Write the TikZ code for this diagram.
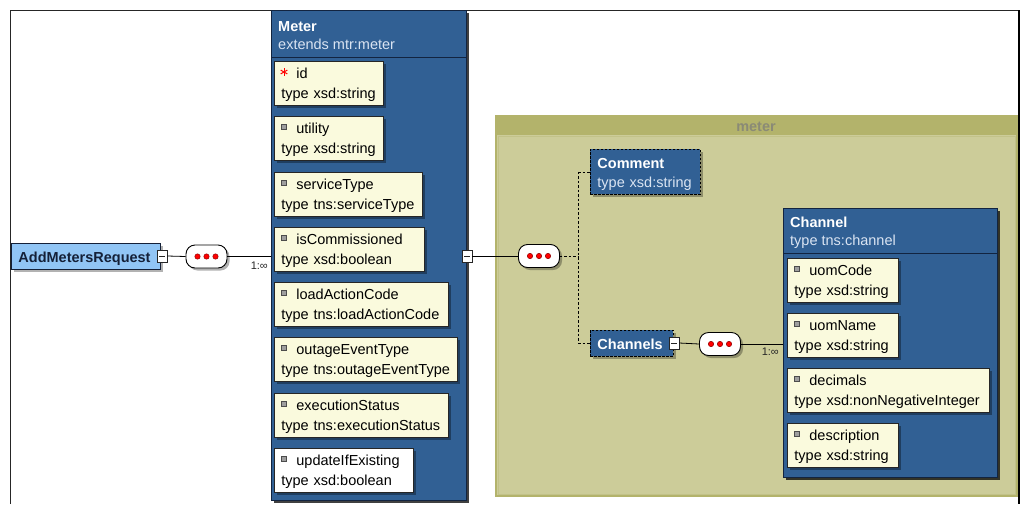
\documentclass[tikz,border=0pt]{standalone}
\usepackage{fontspec}
\setmainfont{Liberation Sans}
\usetikzlibrary{shadows,calc}
\definecolor{xblue}{RGB}{49,96,148}
\definecolor{xblueline}{RGB}{18,36,64}
\definecolor{xsub}{RGB}{218,228,242}
\definecolor{xcream}{RGB}{250,250,221}
\definecolor{xlight}{RGB}{145,197,245}
\definecolor{xdark}{RGB}{20,32,56}
\definecolor{olivehead}{RGB}{179,179,107}
\definecolor{olivebody}{RGB}{204,204,153}
\definecolor{olivetext}{RGB}{138,138,118}
\newcommand\fsz{\fontsize{14.5}{20}\selectfont}
\newcommand\xelem[8]{%
  \node[elembox, fill=#8, minimum width=#4, text width=#5, anchor=north west] (#1) at (#2,#3)
    {\rule{0pt}{13.6pt}\hspace*{15pt}\mbox{#6}\\\mbox{#7}};
}
\newcommand\xicon[2]{%
  \filldraw[fill=black!38, draw=black!70, line width=0.6pt] (#1+7.5,#2+8.5) rectangle (#1+12.5,#2+13.5);
}
\tikzset{
  elembox/.style={draw=black!85, line width=0.8pt, minimum height=44, inner xsep=7pt, inner ysep=0pt,
    align=left, font=\fsz,
    drop shadow={shadow xshift=2.5pt, shadow yshift=-2.5pt, opacity=0.35, fill=black}},
  bigbox/.style={draw=xblueline, line width=0.9pt, fill=xblue, inner sep=0pt,
    drop shadow={shadow xshift=3pt, shadow yshift=-3pt, opacity=0.75, fill=black}},
  dbox/.style={draw=black, dash pattern=on 2.5pt off 1.5pt, line width=0.9pt, fill=xblue,
    drop shadow={shadow xshift=2.5pt, shadow yshift=-2.5pt, opacity=0.3, fill=black}},
  seq/.style={draw=black, fill=white, rounded corners=9pt, minimum width=41, minimum height=23,
    line width=0.9pt, inner sep=0pt,
    drop shadow={shadow xshift=2.5pt, shadow yshift=-2.5pt, opacity=0.3, fill=black}},
  minus/.style={draw=black!85, fill=white, minimum width=10, minimum height=12, inner sep=0pt,
    line width=0.8pt,
    path picture={\draw[line width=1pt] ([xshift=2pt]path picture bounding box.west) -- ([xshift=-2pt]path picture bounding box.east);}},
  conn/.style={draw=black, line width=0.8pt},
  dconn/.style={draw=black, line width=0.9pt, dash pattern=on 2.5pt off 2pt},
  ttl/.style={anchor=base west, inner sep=0pt, font=\fsz\bfseries, text=white},
  sub/.style={anchor=base west, inner sep=0pt, font=\fsz, text=xsub},
  card/.style={anchor=base east, inner sep=0pt, font=\fontsize{11}{11}\selectfont, text=black!85},
}
\begin{document}
\begin{tikzpicture}[x=1pt,y=-1pt]
\useasboundingbox (0,0) rectangle (1023,504);
\fill[white] (0,0) rectangle (1023,504);

% olive group "meter"
\fill[olivehead] (495,115) rectangle (1018,497);
\fill[olivebody] (497,135) rectangle (1016,495);
\draw[olivehead!80!white, line width=0.6pt] (498,136) rectangle (1015,494);
\node[anchor=base, inner sep=0pt, font=\fsz\bfseries, text=olivetext] (grp) at (756,131.5) {meter};

% outer frame
\draw[black!85, line width=0.8pt] (10,504) -- (10,10) -- (1019,10);
\draw[black, line width=1.4pt] (1019,10) -- (1019,504);

% AddMetersRequest
\node[draw=xdark, fill=xlight, line width=0.9pt, minimum width=149, minimum height=26, anchor=north west,
  inner xsep=7pt, text width=135, align=left, font=\fsz\bfseries, text=xdark, text height=14, text depth=1,
  drop shadow={shadow xshift=2.5pt, shadow yshift=-2.5pt, opacity=0.3, fill=black}]
  (amr) at (11,243) {AddMetersRequest};
\node[minus] (m1) at (162,256) {};
\node[seq] (s1) at (206.5,256.5) {};
\foreach \d in {-9,0,9} \filldraw[fill=red, draw=red!55!black, line width=0.5pt] ($(s1)+(\d,0)$) circle (2.7pt);

% Meter
\node[bigbox, minimum width=195, minimum height=490, anchor=north west] (meter) at (271,10) {};
\draw[xblueline, line width=0.9pt] (meter.west |- 0,57) -- (meter.east |- 0,57);
\node[ttl] (metert) at (278,31) {Meter};
\node[sub] (meters) at (278,49) {extends mtr:meter};

\xelem{id}{274}{61}{109}{95}{id}{type xsd:string}{xcream}
\xelem{utility}{274}{116}{109}{95}{utility}{type xsd:string}{xcream}
\xelem{serviceType}{274}{172}{148}{134}{serviceType}{type tns:serviceType}{xcream}
\xelem{isCommissioned}{274}{227}{150}{136}{isCommissioned}{type xsd:boolean}{xcream}
\xelem{loadActionCode}{274}{282}{174}{160}{loadActionCode}{type tns:loadActionCode}{xcream}
\xelem{outageEventType}{274}{337}{183}{169}{outageEventType}{type tns:outageEventType}{xcream}
\xelem{executionStatus}{274}{393}{174}{160}{executionStatus}{type tns:executionStatus}{xcream}
\xelem{updateIfExisting}{274}{448}{139}{125}{updateIfExisting}{type xsd:boolean}{white}
\foreach \yy in {116,172,227,282,337,393,448} {\xicon{274}{\yy}}
% required asterisk
\foreach \a in {90,30,150} \draw[red, line width=1pt] ($(284,72)+(\a:3.8pt)$) -- ($(284,72)-(\a:3.8pt)$);

\node[minus] (m2) at (467,256) {};
\node[seq] (s2) at (539,256) {};
\foreach \d in {-9,0,9} \filldraw[fill=red, draw=red!55!black, line width=0.5pt] ($(s2)+(\d,0)$) circle (2.7pt);

% Comment and Channels
\node[dbox, minimum width=110, minimum height=45, anchor=north west, inner xsep=7pt, inner ysep=0pt,
  text width=96, align=left, font=\fontsize{14.5}{19}\selectfont]
  (comment) at (590,149) {\rule{0pt}{15pt}\textcolor{white}{\bfseries Comment}\\\textcolor{xsub}{type xsd:string}};
\node[dbox, minimum width=83, minimum height=26, anchor=north west, inner xsep=7pt,
  text width=69, align=left, font=\fsz\bfseries, text=white, text height=14, text depth=2]
  (channels) at (590,330) {Channels};
\node[minus] (m3) at (674,343) {};
\node[seq] (s3) at (720,344) {};
\foreach \d in {-9,0,9} \filldraw[fill=red, draw=red!55!black, line width=0.5pt] ($(s3)+(\d,0)$) circle (2.7pt);

% Channel
\node[bigbox, minimum width=214, minimum height=269, anchor=north west] (channel) at (783,208) {};
\draw[xblueline, line width=0.9pt] (channel.west |- 0,253) -- (channel.east |- 0,253);
\node[ttl] (channelt) at (790,227) {Channel};
\node[sub] (channels2) at (790,245) {type tns:channel};
\xelem{uomCode}{787}{258}{111}{97}{uomCode}{type xsd:string}{xcream}
\xelem{uomName}{787}{313}{111}{97}{uomName}{type xsd:string}{xcream}
\xelem{decimals}{787}{368}{202}{188}{decimals}{type xsd:nonNegativeInteger}{xcream}
\xelem{description}{787}{423}{111}{97}{description}{type xsd:string}{xcream}
\foreach \yy in {258,313,368,423} {\xicon{787}{\yy}}

% connectors
\draw[conn] (m1.east) -- (s1.west);
\draw[conn] (s1.east) -- (s1.east -| meter.west);
\node[card] (c1) at (268,269) {1:∞};
\draw[conn] (m2.east) -- (s2.west);
\coordinate (br) at (578,256);
\draw[dconn] (s2.east) -- (br);
\draw[dconn] (comment.west -| br) -- (channels.west -| br);
\draw[dconn] (comment.west -| br) -- (comment.west);
\draw[dconn] (channels.west -| br) -- (channels.west);
\draw[conn] (m3.east) -- (s3.west);
\draw[conn] (s3.east) -- (s3.east -| channel.west);
\node[card] (c2) at (779,355) {1:∞};
\end{tikzpicture}
\end{document}
